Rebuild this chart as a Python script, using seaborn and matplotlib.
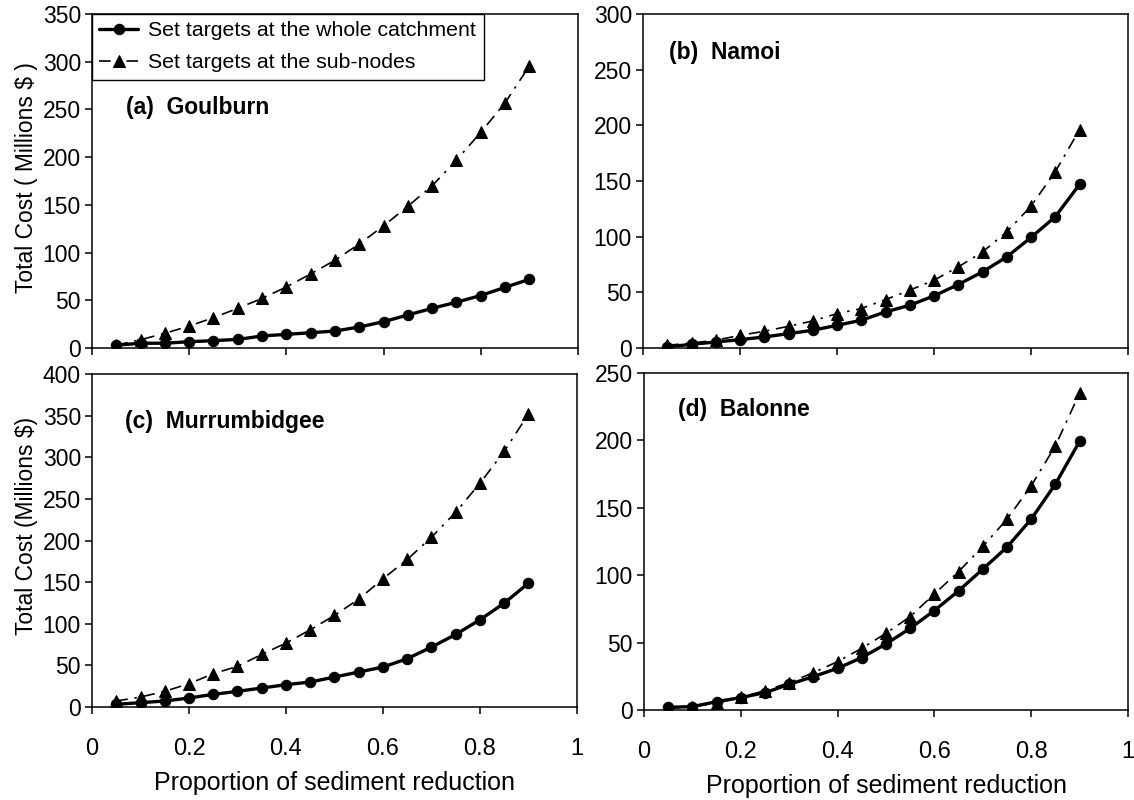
import numpy as np
import pandas as pd
import matplotlib
matplotlib.use("Agg")
import matplotlib.pyplot as plt
import seaborn as sns

# ---- data ----
reduction = [0.05, 0.10, 0.15, 0.20, 0.25, 0.30, 0.35, 0.40, 0.45,
             0.50, 0.55, 0.60, 0.65, 0.70, 0.75, 0.80, 0.85, 0.90]

goulburn_whole = [3, 5, 5, 6.6, 7.7, 9, 12.6, 14.3, 16, 17.8, 22, 27.6,
                  34.6, 41.6, 48, 55, 63.6, 72]
goulburn_sub = [3, 8.7, 15.4, 23, 31.8, 41.6, 52, 64, 77.6, 92, 109, 128,
                148.6, 170, 197, 226, 257, 295.6]

namoi_whole = [1, 3.3, 5.4, 7.5, 9.9, 12.9, 15.9, 20.4, 24.9, 32.4, 38.4,
               46.8, 57, 68.4, 81.8, 99.3, 117.9, 146.9]
namoi_sub = [2.4, 4.5, 6.9, 11.4, 15, 19.5, 24.3, 30.9, 35.4, 43.5, 51.9,
             60.9, 72.8, 86.3, 104.3, 127.4, 158.3, 196]

murrum_whole = [3.2, 5.2, 7.2, 10.8, 15.2, 18.8, 22.8, 26.8, 30, 36, 42, 48,
                58, 72, 87.2, 104.8, 124.8, 148.8]
murrum_sub = [7.2, 12, 18.8, 28, 40, 48.8, 63.2, 76.8, 92.8, 110, 129.6, 154,
              177.2, 204, 234, 268.8, 307.2, 352]

balonne_whole = [2, 2.5, 6.2, 9.2, 12.9, 19, 24.8, 30.9, 38.9, 49, 60.6,
                 73.8, 88.4, 104.5, 120.8, 141.6, 167.6, 199.3]
balonne_sub = [1.2, 2.5, 5, 9.4, 14.4, 20.3, 27.7, 35.9, 45.8, 56.9, 69.3,
               86.1, 102.7, 121.3, 141.6, 166.3, 196, 235.1]

panel_titles = ["(a)  Goulburn", "(b)  Namoi", "(c)  Murrumbidgee", "(d)  Balonne"]
series_labels = ["Set targets at the whole catchment", "Set targets at the sub-nodes"]
x_ticks = [0, 0.2, 0.4, 0.6, 0.8, 1]
x_tick_labels = ["0", "0.2", "0.4", "0.6", "0.8", "1"]
y_maxes = [350, 300, 400, 250]
x_label = "Proportion of sediment reduction"
y_labels = ["Total Cost ( Millions $ )", None, "Total Cost (Millions $)", None]

# ---- style ----
sns.set_style("white")
plt.rcParams["font.family"] = ["Liberation Sans", "DejaVu Sans"]
plt.rcParams["axes.edgecolor"] = "black"
plt.rcParams["axes.linewidth"] = 1.1
plt.rcParams["text.color"] = "black"
plt.rcParams["axes.labelcolor"] = "black"
plt.rcParams["xtick.color"] = "black"
plt.rcParams["ytick.color"] = "black"
plt.rcParams["xtick.labelcolor"] = "black"
plt.rcParams["ytick.labelcolor"] = "black"

fig = plt.figure(figsize=(11.34, 8.0), dpi=100)

W, H = 1134.0, 800.0
boxes = [  # left, top, right, bottom in pixels
    (92, 14, 578, 348),
    (643, 14, 1128, 348),
    (92, 374, 577, 707),
    (644, 373, 1128, 710),
]
title_pos = [(0.070, 0.719), (0.054, 0.886), (0.068, 0.856), (0.070, 0.893)]
ylabel_pos = [0.51, 0.545]

whole_sets = [goulburn_whole, namoi_whole, murrum_whole, balonne_whole]
sub_sets = [goulburn_sub, namoi_sub, murrum_sub, balonne_sub]

axes = []
for i, (l, t, r, b) in enumerate(boxes):
    ax = fig.add_axes([l / W, 1 - b / H, (r - l) / W, (b - t) / H])
    axes.append(ax)
    df = pd.DataFrame({"x": reduction, "whole": whole_sets[i], "sub": sub_sets[i]})
    sns.lineplot(data=df, x="x", y="sub", ax=ax, color="black",
                 linewidth=1.2, linestyle=(0, (7, 4, 1.5, 4)),
                 marker="^", markersize=9, markeredgecolor="black",
                 markerfacecolor="black", label=series_labels[1])
    sns.lineplot(data=df, x="x", y="whole", ax=ax, color="black",
                 linewidth=2.4, marker="o", markersize=7.5,
                 markeredgecolor="black", markerfacecolor="black",
                 label=series_labels[0])
    ax.set_xlim(0, 1)
    ax.set_ylim(0, y_maxes[i])
    ax.set_xticks(x_ticks)
    ax.set_yticks(np.arange(0, y_maxes[i] + 1, 50))
    ax.tick_params(axis="both", direction="out", length=5, width=1.1,
                   color="black", labelcolor="black",
                   bottom=True, left=True, top=False, right=False)
    ax.tick_params(axis="y", labelsize=16.5, pad=3)
    if i >= 2:
        ax.set_xticklabels(x_tick_labels)
        ax.tick_params(axis="x", labelsize=17, pad=17)
        ax.set_xlabel(x_label, fontsize=18, labelpad=8, color="black")
    else:
        ax.set_xticklabels([])
        ax.set_xlabel("")
    if y_labels[i]:
        ax.set_ylabel(y_labels[i], fontsize=16.5, color="black")
        ax.yaxis.set_label_coords(-0.112, ylabel_pos[i // 2])
    else:
        ax.set_ylabel("")
    ax.text(title_pos[i][0], title_pos[i][1], panel_titles[i],
            transform=ax.transAxes, fontsize=16.5, fontweight="bold",
            va="center", ha="left", color="black")
    for s in ax.spines.values():
        s.set_visible(True)
        s.set_color("black")
        s.set_linewidth(1.1)
    if ax.get_legend() is not None:
        ax.get_legend().remove()

# legend in panel (a)
h, lab = axes[0].get_legend_handles_labels()
order = [lab.index(series_labels[0]), lab.index(series_labels[1])]
leg = axes[0].legend([h[k] for k in order], [lab[k] for k in order],
                     loc="upper left", bbox_to_anchor=(0, 1), borderaxespad=0,
                     fontsize=15.3, frameon=True, fancybox=False, framealpha=1,
                     edgecolor="black", handlelength=1.8, handletextpad=0.5,
                     borderpad=0.35, labelspacing=0.6)
leg.get_frame().set_linewidth(1.0)
for txt in leg.get_texts():
    txt.set_color("black")

fig.savefig("out.png", dpi=100)
